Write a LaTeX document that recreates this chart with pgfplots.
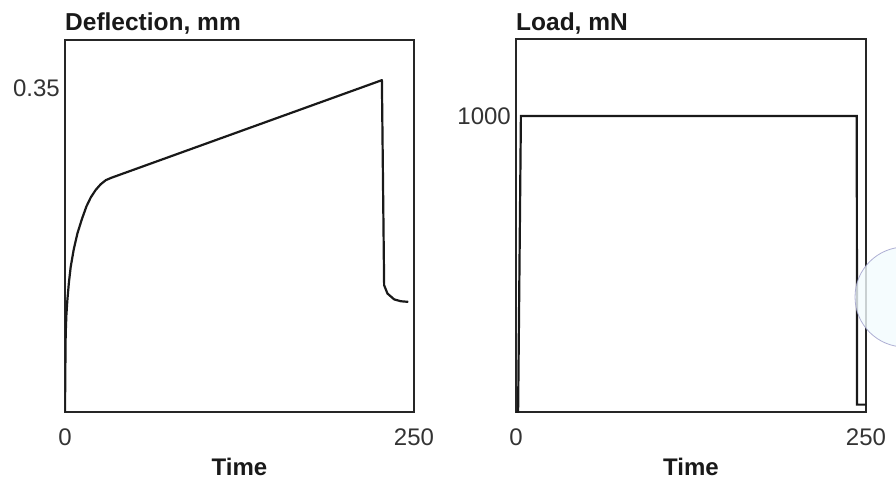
\documentclass[border=0pt]{standalone}
\usepackage{fontspec}
\setmainfont{Liberation Sans}
\usepackage{pgfplots}
\pgfplotsset{compat=1.18}
\begin{document}
\begin{tikzpicture}
\useasboundingbox (0pt,0pt) rectangle (896pt,483pt);
\pgfplotsset{
  myaxis/.style={
    scale only axis,
    anchor=south west,
    axis line style={line width=2pt, black!85},
    major tick length=0pt,
    /pgf/number format/assume math mode=true,
    tick label style={font=\fontsize{24}{27}\selectfont, text=black!80},
    xticklabel style={anchor=base, inner sep=0pt, yshift=-33pt},
    yticklabel style={anchor=east, inner sep=0pt, xshift=-5pt},
    title style={at={(axis description cs:0,1)}, anchor=base west, inner sep=0pt, font=\fontsize{24.5}{27}\selectfont\bfseries, text=black!90},
    xlabel style={at={(axis description cs:0.5,0)}, anchor=base, inner sep=0pt, yshift=-63pt, font=\fontsize{24}{27}\selectfont\bfseries, text=black!90},
    xmin=0, xmax=250, xtick={0,250},
    scaled ticks=false,
    ticklabel style={/pgf/number format/fixed, /pgf/number format/1000 sep={}},
  }
}
\begin{axis}[myaxis,
  at={(65pt,71pt)}, width=349pt, height=372pt,
  ymin=0, ymax=0.402, ytick={0.35},
  yticklabel style={/pgf/number format/precision=2},
  title={Deflection, mm},
  title style={yshift=3pt},
  xlabel={Time}]
\addplot[line width=2.2pt, black!90, line join=round] table {
t d
0 0
0.2 0.04
0.5 0.085
1.0 0.105
1.7 0.121
2.8 0.14
4.1 0.157
6.3 0.176
8.9 0.193
12 0.208
15.3 0.222
18.5 0.232
22 0.240
25.5 0.246
29.3 0.2506
33 0.253
227 0.3586
228.6 0.137
231 0.128
235.8 0.1217
240.5 0.1197
245.9 0.119
};
\end{axis}
\begin{axis}[myaxis,
  at={(516pt,71pt)}, width=350pt, height=373pt,
  ymin=0, ymax=1260, ytick={1000},
  title={Load, mN},
  title style={yshift=2pt},
  xlabel={Time}]
\addplot[line width=2.2pt, black!90, line join=miter] table {
t l
0 0
1.5 0
3.5 1000
243.4 1000
243.6 25
250 25
};
\end{axis}
\draw[line width=0.8pt, draw=blue!30!gray!60, fill=cyan!5, opacity=0.8] (905pt,186pt) circle (50pt);
\end{tikzpicture}
\end{document}
